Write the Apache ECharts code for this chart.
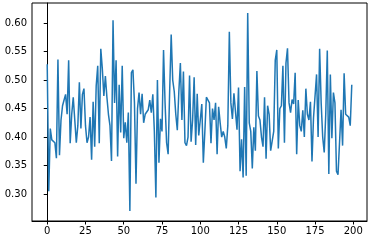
<!DOCTYPE html>
<html><head><meta charset="utf-8">
<script src="https://cdn.jsdelivr.net/npm/echarts@6/dist/echarts.min.js"></script>
<style>html,body{margin:0;padding:0;background:#fff}#c{width:378px;height:249px}</style>
</head><body><div id="c"></div>
<script>
const values = [
0.528,0.305,0.415,0.395,0.392,0.390,0.363,0.536,0.368,0.430,
0.455,0.465,0.475,0.440,0.535,0.389,0.440,0.470,0.468,0.390,
0.420,0.496,0.415,0.475,0.485,0.420,0.390,0.400,0.435,0.360,
0.462,0.383,0.490,0.525,0.389,0.555,0.520,0.472,0.507,0.470,
0.440,0.420,0.358,0.605,0.460,0.535,0.366,0.492,0.408,0.525,
0.398,0.426,0.390,0.443,0.270,0.513,0.518,0.460,0.318,0.450,
0.478,0.440,0.476,0.425,0.440,0.437,0.448,0.465,0.443,0.475,
0.410,0.294,0.500,0.355,0.432,0.410,0.553,0.460,0.390,0.370,
0.480,0.580,0.500,0.480,0.440,0.412,0.480,0.530,0.430,0.515,
0.390,0.385,0.400,0.508,0.392,0.430,0.505,0.386,0.476,0.403,
0.430,0.458,0.355,0.410,0.470,0.472,0.460,0.389,0.450,0.430,
0.460,0.370,0.453,0.425,0.400,0.410,0.400,0.380,0.420,0.585,
0.460,0.432,0.477,0.475,0.413,0.487,0.340,0.396,0.329,0.488,
0.332,0.618,0.425,0.410,0.345,0.417,0.376,0.516,0.437,0.430,
0.400,0.383,0.470,0.362,0.455,0.440,0.376,0.376,0.410,0.535,
0.553,0.380,0.450,0.455,0.525,0.390,0.530,0.556,0.460,0.443,
0.466,0.458,0.513,0.370,0.465,0.420,0.410,0.447,0.400,0.485,
0.440,0.430,0.462,0.357,0.434,0.437,0.510,0.400,0.555,0.460,
0.400,0.373,0.440,0.552,0.335,0.510,0.398,0.478,0.460,0.340,
0.334,0.390,0.448,0.385,0.512,0.440,0.440,0.435,0.420,0.492
];
const xTicks = [0,25,50,75,100,125,150,175,200];
const yTicks = [0.30,0.35,0.40,0.45,0.50,0.55,0.60];

const chart = echarts.init(document.getElementById('c'), null, {renderer:'canvas'});
const lbl = {color:'#000', fontFamily:'DejaVu Sans', fontSize:10};
chart.setOption({
  animation:false,
  backgroundColor:'#fff',
  grid:{left:32, right:11, top:3, bottom:28, show:true, borderColor:'#000', borderWidth:1, backgroundColor:'#fff'},
  xAxis:{type:'value', min:-9.95, max:208.95,
    axisLine:{show:true, lineStyle:{color:'#000', width:1}},
    axisTick:{show:true, inside:false, length:3.5, lineStyle:{color:'#000'}, customValues:xTicks},
    axisLabel:Object.assign({customValues:xTicks, margin:5, formatter:v=>String(v)}, lbl),
    splitLine:{show:false}},
  yAxis:{type:'value', min:0.2526, max:0.6354,
    axisLine:{show:true, lineStyle:{color:'#000', width:1}},
    axisTick:{show:true, inside:false, length:3.5, lineStyle:{color:'#000'}, customValues:yTicks},
    axisLabel:Object.assign({customValues:yTicks, margin:5, formatter:v=>v.toFixed(2)}, lbl),
    splitLine:{show:false}},
  series:[{type:'line', data:values.map((v,i)=>[i,v]), showSymbol:false, symbol:'none',
    lineStyle:{color:'#1f77b4', width:1.5}, itemStyle:{color:'#1f77b4'}}]
});
</script></body></html>
